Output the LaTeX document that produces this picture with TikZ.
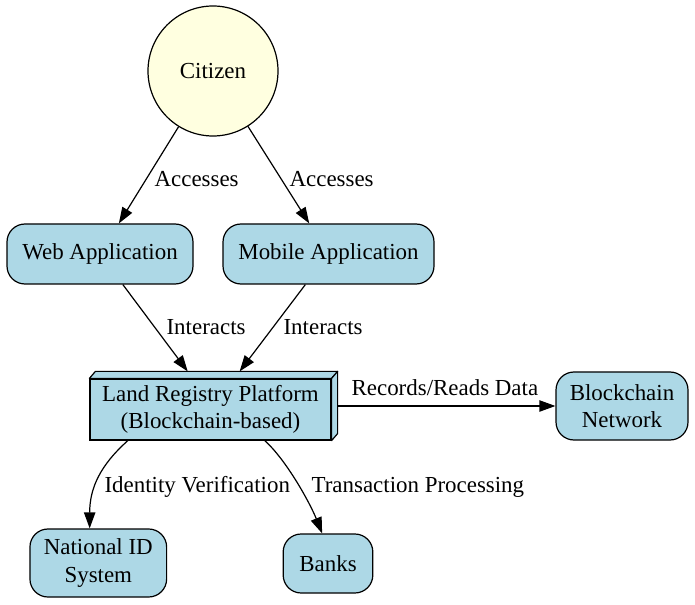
\documentclass[tikz,border=0pt]{standalone}
\usepackage{fontspec}
\setmainfont{Liberation Serif}
\usetikzlibrary{arrows.meta,calc}

\definecolor{nodeblue}{HTML}{ADD8E6}
\definecolor{nodeyellow}{HTML}{FFFFE0}
\newcommand{\diagfont}{\fontsize{17.2}{20.5}\selectfont}

\tikzset{every picture/.style={line width=0.9pt}}
\tikzset{
  roundbox/.style={draw, fill=nodeblue, rounded corners=13.5pt, align=center, inner sep=0pt, font=\diagfont},
  edgetext/.style={anchor=base west, inner sep=0pt, font=\diagfont},
  flow/.style={-{Triangle[length=12pt,width=8.5pt]}},
}

\begin{document}
\begin{tikzpicture}[x=0.75pt,y=0.75pt,yscale=-1,xscale=1]
\useasboundingbox (0,0) rectangle (695,605);

%Shape: Circle [id:citizen]
\node [circle, draw, fill=nodeyellow, minimum size=97.5pt, inner sep=0pt, font=\diagfont] (citizen) at (213,71) {Citizen};
%Shape: Rounded Rect [id:webapp]
\node [roundbox, minimum width=139.5pt, minimum height=45pt] (webapp) at (100,254) {Web Application};
%Shape: Rounded Rect [id:mobileapp]
\node [roundbox, minimum width=158.25pt, minimum height=45pt] (mobileapp) at (328.5,254) {Mobile Application};
%Shape: Box 3D [id:platform]
\node [minimum width=185.25pt, minimum height=51pt, inner sep=0pt] (platform) at (213.5,406) {};
\draw [fill=nodeblue, line join=round] ($(platform.north west)+(0,7)$) -- ($(platform.north west)+(6,0)$) -- (platform.north east) -- ($(platform.north east)+(-6,7)$) -- cycle ;
\draw [fill=nodeblue, line join=round] ($(platform.north east)+(-6,7)$) -- (platform.north east) -- ($(platform.south east)+(0,-7)$) -- ($(platform.south east)+(-6,0)$) -- cycle ;
\node [draw, fill=nodeblue, align=center, inner sep=0pt, minimum width=180.75pt, minimum height=45.75pt, font=\diagfont] (platformfront) at (210.5,409.5) {Land Registry Platform\\(Blockchain-based)};
%Shape: Rounded Rect [id:chain]
\node [roundbox, minimum width=99pt, minimum height=51pt] (chain) at (622,406) {Blockchain\\Network};
%Shape: Rounded Rect [id:natid]
\node [roundbox, minimum width=102.5pt, minimum height=51pt] (natid) at (98.3,563) {National ID\\System};
%Shape: Rounded Rect [id:banks]
\node [roundbox, minimum width=67.25pt, minimum height=44.25pt] (banks) at (328,563.5) {Banks};

%Straight Lines
\draw [flow] (citizen) -- (webapp) ;
\draw [flow] (citizen) -- (mobileapp) ;
\draw [flow] (webapp) -- (platform) ;
\draw [flow] (mobileapp) -- (platform) ;
\draw [flow] (platform) -- (chain) ;
%Curve Lines
\draw [flow] (platform.-158) .. controls +(-28,25) and +(0,-40) .. (natid.104) ;
\draw [flow] (platform.-34) .. controls +(22,20) and +(-12,-30) .. (banks.101) ;

% Text Node
\node [edgetext] (accweb) at (154,187) {Accesses};
% Text Node
\node [edgetext] (accmob) at (289,187) {Accesses};
% Text Node
\node [edgetext] (intweb) at (166,335) {Interacts};
% Text Node
\node [edgetext] (intmob) at (283,335) {Interacts};
% Text Node
\node [edgetext] (records) at (351,395) {Records/Reads Data};
% Text Node
\node [edgetext] (identity) at (104,492) {Identity Verification};
% Text Node
\node [edgetext] (transact) at (311,492) {Transaction Processing};

\end{tikzpicture}
\end{document}
